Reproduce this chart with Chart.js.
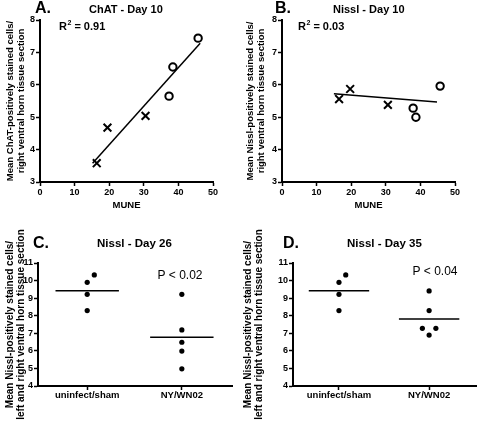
<!DOCTYPE html>
<html>
<head>
<meta charset="UTF-8">
<title>MUNE and motor neuron counts</title>
<script src="https://cdn.jsdelivr.net/npm/chart.js"></script>
<style>
    body { margin: 0; background: #fff; }
    #wrap { position: relative; width: 480px; height: 422px; overflow: hidden; }
    #wrap canvas { position: absolute; }
</style>
</head>
<body>
<div id="wrap">
    <canvas id="chartA" width="240" height="211" style="left:0;top:0"></canvas>
    <canvas id="chartB" width="240" height="211" style="left:240px;top:0"></canvas>
    <canvas id="chartC" width="240" height="211" style="left:0;top:211px"></canvas>
    <canvas id="chartD" width="240" height="211" style="left:240px;top:211px"></canvas>
</div>

<script>
    // A. ChAT - Day 10 (x markers and o markers)
    const chatMuneX = [16.4, 19.5, 30.5];
    const chatCellsX = [3.58, 4.68, 5.04];
    const chatMuneO = [37.3, 38.4, 45.7];
    const chatCellsO = [5.65, 6.55, 7.44];
    const chatFitMune = [15.2, 46.3];
    const chatFitCells = [3.58, 7.28];

    // B. Nissl - Day 10
    const nisslMuneX = [16.5, 19.7, 30.6];
    const nisslCellsX = [5.56, 5.87, 5.38];
    const nisslMuneO = [37.9, 38.7, 45.7];
    const nisslCellsO = [5.28, 5.0, 5.96];
    const nisslFitMune = [15.0, 44.8];
    const nisslFitCells = [5.72, 5.47];

    // C. / D. group comparison
    const groups = ['uninfect/sham', 'NY/WN02'];
    const day26Sham = [10.32, 9.9, 9.22, 8.29];
    const day26ShamJitter = [0.075, 0, 0, 0];
    const day26Ny = [9.22, 7.19, 6.49, 5.99, 4.98];
    const day26NyJitter = [0, 0, 0, 0, 0];
    const day26Means = [9.42, 6.77];

    const day35Sham = [10.32, 9.9, 9.22, 8.29];
    const day35ShamJitter = [0.075, 0, 0, 0];
    const day35Ny = [9.41, 8.29, 7.28, 7.28, 6.9];
    const day35NyJitter = [0, 0, -0.075, 0.075, 0];
    const day35Means = [9.42, 7.81];

    const FONT = "'Liberation Sans', Arial, sans-serif";
    const meanHalfWidth = 0.335;

    function toPts(xs, ys) {
        return xs.map((x, i) => ({ x: x, y: ys[i] }));
    }

    // texts drawn over the chart (panel letter, title, annotation)
    const panelText = {
        id: 'panelText',
        afterDraw(chart, args, opts) {
            const ctx = chart.ctx;
            ctx.save();
            ctx.fillStyle = '#000';
            ctx.textBaseline = 'middle';
            (opts.items || []).forEach(t => {
                ctx.font = t.font;
                ctx.textAlign = t.align || 'left';
                ctx.fillText(t.text, t.x, t.y);
            });
            if (opts.r2) {
                const r = opts.r2;
                ctx.textAlign = 'left';
                ctx.font = 'bold 11px ' + FONT;
                ctx.fillText('R', r.x, r.y);
                let x = r.x + ctx.measureText('R').width;
                ctx.font = 'bold 7px ' + FONT;
                ctx.fillText('2', x + 0.5, r.y - 4);
                x += ctx.measureText('2').width + 0.5;
                ctx.font = 'bold 11px ' + FONT;
                ctx.fillText(' = ' + r.value, x, r.y);
            }
            ctx.restore();
        }
    };

    function axis(opts) {
        const a = {
            type: 'linear',
            min: opts.min,
            max: opts.max,
            border: { display: true, color: '#000', width: 2 },
            grid: { drawOnChartArea: false, drawTicks: true, color: '#000', tickLength: 4, tickWidth: 1.5 },
            ticks: { color: '#000', font: { family: FONT, size: 9, weight: 'bold' }, padding: opts.tickPad },
            afterFit: opts.fit
        };
        if (opts.step) a.ticks.stepSize = opts.step;
        if (opts.title) {
            a.title = {
                display: true,
                text: opts.title,
                color: '#000',
                font: { family: FONT, size: opts.titleSize, weight: 'bold', lineHeight: opts.titleLH },
                padding: opts.titlePad
            };
        }
        return a;
    }

    function muneChart(id, d, padRight, yWidth, yTitle, letter, title, titleX, r2) {
        new Chart(document.getElementById(id), {
            type: 'scatter',
            data: {
                datasets: [
                    { data: toPts(d.mx, d.cx), pointStyle: 'crossRot', radius: 5.5, borderColor: '#000', borderWidth: 2 },
                    { data: toPts(d.mo, d.co), pointStyle: 'circle', radius: 3.7, borderColor: '#000', backgroundColor: '#fff', borderWidth: 2 },
                    { data: toPts(d.fx, d.fy), showLine: true, pointRadius: 0, borderColor: '#000', borderWidth: 1.5 }
                ]
            },
            options: {
                responsive: false,
                animation: false,
                events: [],
                layout: { padding: { top: 20, right: padRight, left: 0, bottom: 0 } },
                plugins: {
                    legend: { display: false },
                    tooltip: { enabled: false },
                    panelText: {
                        items: [
                            { text: letter, x: 35, y: 9, font: 'bold 16px ' + FONT },
                            { text: title, x: titleX, y: 10, font: 'bold 11px ' + FONT }
                        ],
                        r2: r2
                    }
                },
                scales: {
                    x: axis({ min: 0, max: 50, step: 10, tickPad: 1, title: 'MUNE', titleSize: 9.5, titleLH: 1.2,
                        titlePad: { top: 0, bottom: 0 }, fit: s => { s.height = 29; } }),
                    y: axis({ min: 3, max: 8, step: 1, tickPad: 1, title: yTitle, titleSize: 9.5, titleLH: 1.15,
                        titlePad: { top: 4.5, bottom: 0 }, fit: s => { s.width = yWidth; } })
                }
            },
            plugins: [panelText]
        });
    }

    function groupChart(id, sham, shamJit, ny, nyJit, means, xr, padRight, yWidth, titlePadTop, letter, letterX, title, titleX, pText, pX, pY) {
        const shamX = sham.map((v, i) => 1 + shamJit[i]);
        const nyX = ny.map((v, i) => 2 + nyJit[i]);
        const dot = { pointStyle: 'circle', radius: 2.6, borderWidth: 0, backgroundColor: '#000', borderColor: '#000' };
        const meanLine = { showLine: true, pointRadius: 0, borderColor: '#000', borderWidth: 1.5 };
        new Chart(document.getElementById(id), {
            type: 'scatter',
            data: {
                datasets: [
                    Object.assign({ data: toPts(shamX, sham) }, dot),
                    Object.assign({ data: toPts(nyX, ny) }, dot),
                    Object.assign({ data: toPts([1 - meanHalfWidth, 1 + meanHalfWidth], [means[0], means[0]]) }, meanLine),
                    Object.assign({ data: toPts([2 - meanHalfWidth, 2 + meanHalfWidth], [means[1], means[1]]) }, meanLine)
                ]
            },
            options: {
                responsive: false,
                animation: false,
                events: [],
                layout: { padding: { top: 52, right: padRight, left: 0, bottom: 0 } },
                plugins: {
                    legend: { display: false },
                    tooltip: { enabled: false },
                    panelText: {
                        items: [
                            { text: letter, x: letterX, y: 33, font: 'bold 16px ' + FONT },
                            { text: title, x: titleX, y: 33, font: 'bold 11.5px ' + FONT },
                            { text: pText, x: pX, y: pY, font: '12px ' + FONT, align: 'center' }
                        ]
                    }
                },
                scales: {
                    x: Object.assign(axis({ min: xr[0], max: xr[1], tickPad: 0, fit: s => { s.height = 36; } }), {
                        afterBuildTicks: s => { s.ticks = groups.map((g, i) => ({ value: i + 1 })); }
                    }),
                    y: axis({ min: 4, max: 11, step: 1, tickPad: 1,
                        title: ['Mean Nissl-positively stained cells/', 'left and right ventral horn tissue section'],
                        titleSize: 10, titleLH: 1.1, titlePad: { top: titlePadTop, bottom: 0 },
                        fit: s => { s.width = yWidth; } })
                }
            },
            plugins: [panelText]
        });
        const c = Chart.getChart(id);
        c.options.scales.x.ticks.callback = v => groups[Math.round(v) - 1];
        c.options.scales.x.ticks.font = { family: FONT, size: 9.5, weight: 'bold' };
        c.update();
    }

    muneChart('chartA',
        { mx: chatMuneX, cx: chatCellsX, mo: chatMuneO, co: chatCellsO, fx: chatFitMune, fy: chatFitCells },
        27, 40, ['Mean ChAT-positively stained cells/', 'right ventral horn tissue section'],
        'A.', 'ChAT - Day 10', 89, { x: 59, y: 27, value: '0.91' });

    muneChart('chartB',
        { mx: nisslMuneX, cx: nisslCellsX, mo: nisslMuneO, co: nisslCellsO, fx: nisslFitMune, fy: nisslFitCells },
        25, 42, ['Mean Nissl-positively stained cells/', 'right ventral horn tissue section'],
        'B.', 'Nissl - Day 10', 93, { x: 58, y: 27, value: '0.03' });

    groupChart('chartC', day26Sham, day26ShamJitter, day26Ny, day26NyJitter, day26Means,
        [0.48, 2.53], 8, 38, 4.5, 'C.', 33, 'Nissl - Day 26', 97, 'P < 0.02', 180, 65);

    groupChart('chartD', day35Sham, day35ShamJitter, day35Ny, day35NyJitter, day35Means,
        [0.49, 2.52], 0, 53, 2.5, 'D.', 43, 'Nissl - Day 35', 107, 'P < 0.04', 195, 61);
</script>
</body>
</html>
